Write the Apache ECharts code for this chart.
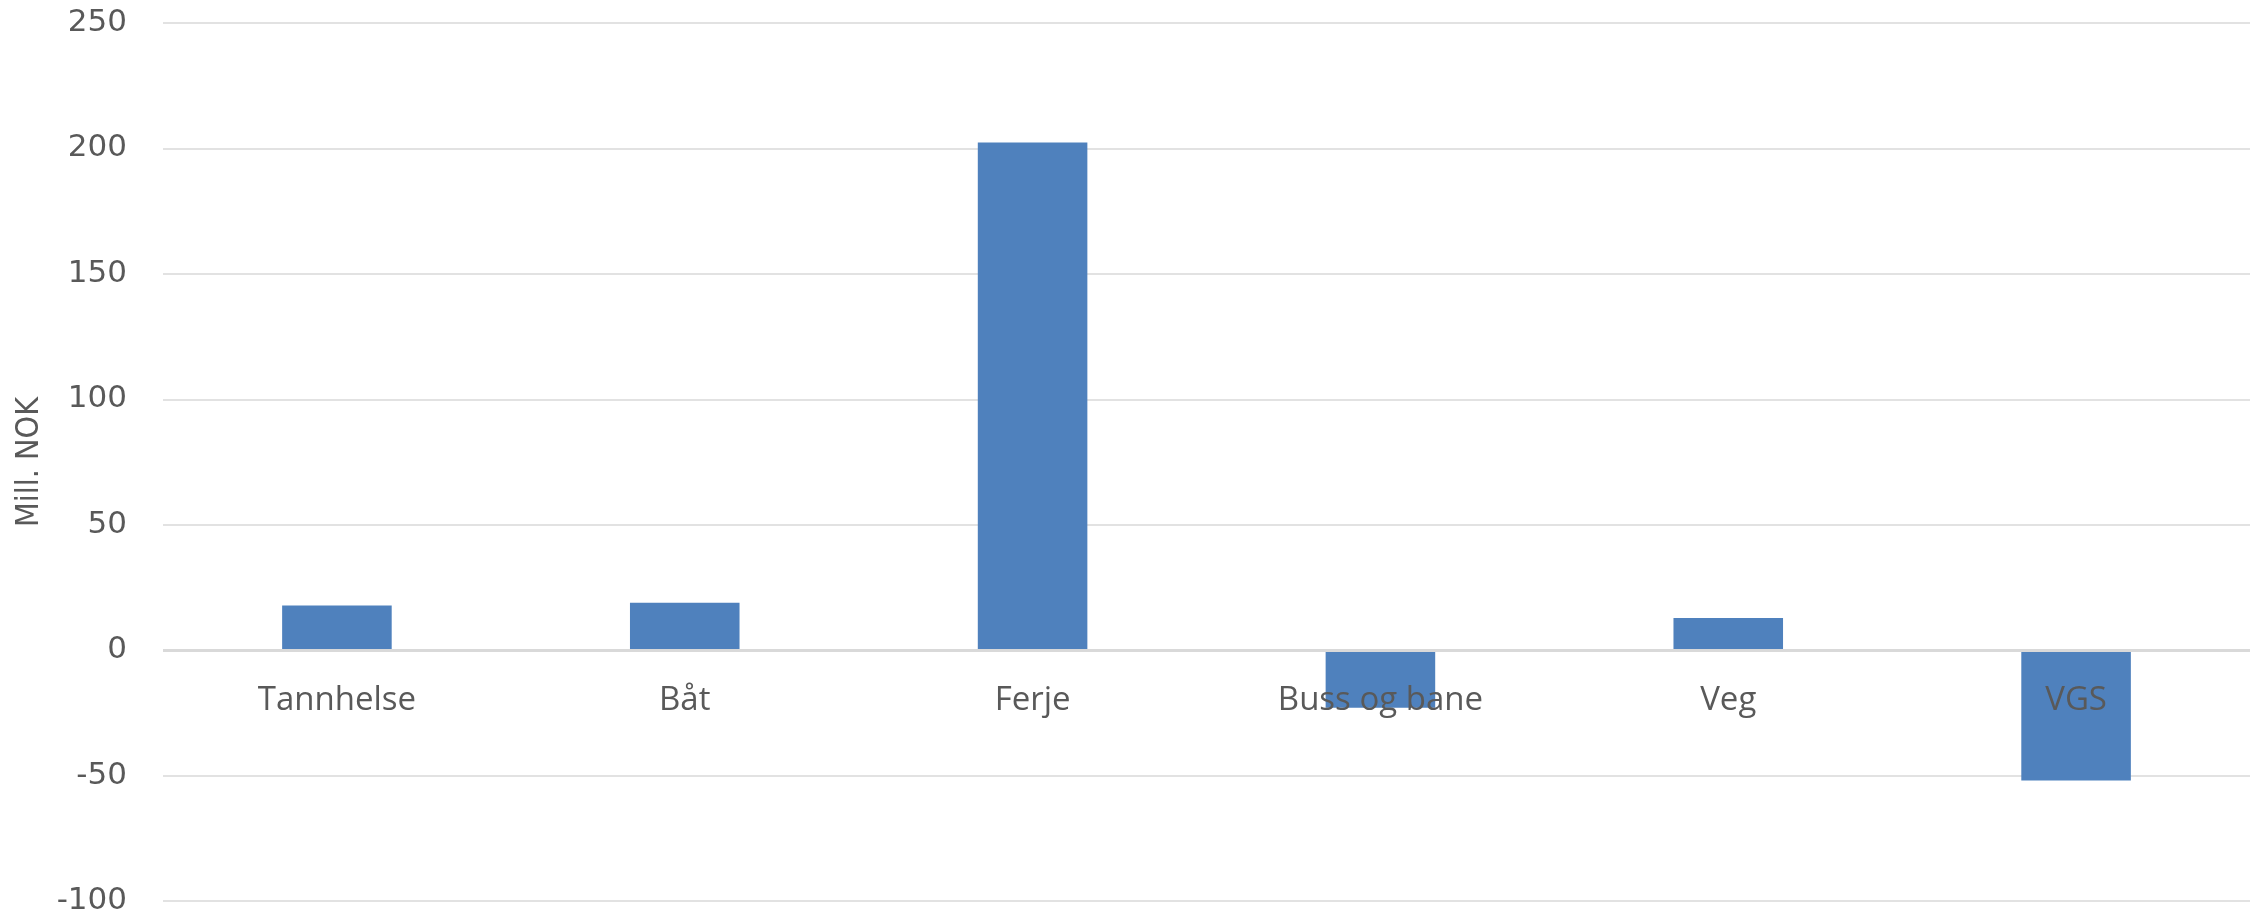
<!DOCTYPE html>
<html><head><meta charset="utf-8">
<script src="https://cdn.jsdelivr.net/npm/echarts@6/dist/echarts.min.js"></script>
<style>html,body{margin:0;padding:0;background:#fff}#c{width:2257px;height:917px}</style>
</head><body><div id="c"></div>
<script>
const categories = ['Tannhelse', 'Båt', 'Ferje', 'Buss og bane', 'Veg', 'VGS'];
const values = [17.8, 18.9, 202.4, -23, 12.8, -52];
const yTicks = { min: -100, max: 250, interval: 50 };
const yName = 'Mill. NOK';

const chart = echarts.init(document.getElementById('c'));
chart.setOption({
  animation: false,
  grid: { left: 163, right: 7, top: 23, bottom: 16, containLabel: false, outerBoundsMode: 'none' },
  xAxis: {
    type: 'category', data: categories, z: 10,
    axisLine: { show: false, onZero: false },
    axisTick: { show: false },
    axisLabel: { color: '#595959', fontFamily: 'Open Sans, sans-serif', fontSize: 33, margin: -217 },
    splitLine: { show: false }
  },
  yAxis: {
    type: 'value', min: yTicks.min, max: yTicks.max, interval: yTicks.interval,
    name: yName, nameLocation: 'middle', nameGap: 112, nameRotate: 90,
    nameTextStyle: { color: '#595959', fontFamily: 'DejaVu Sans Condensed, sans-serif', fontSize: 32 },
    axisLine: { show: false }, axisTick: { show: false },
    axisLabel: { color: '#595959', fontFamily: 'DejaVu Sans', fontSize: 31, margin: 36 },
    splitLine: { lineStyle: { color: '#D9D9D9', width: 1.5 } }
  },
  series: [{
    type: 'bar', data: values, barWidth: '31.5%',
    itemStyle: { color: '#4F81BD' },
    markLine: {
      silent: true, symbol: 'none', label: { show: false },
      lineStyle: { color: '#D9D9D9', width: 3, type: 'solid' },
      data: [{ yAxis: 0 }]
    }
  }]
});
</script></body></html>
